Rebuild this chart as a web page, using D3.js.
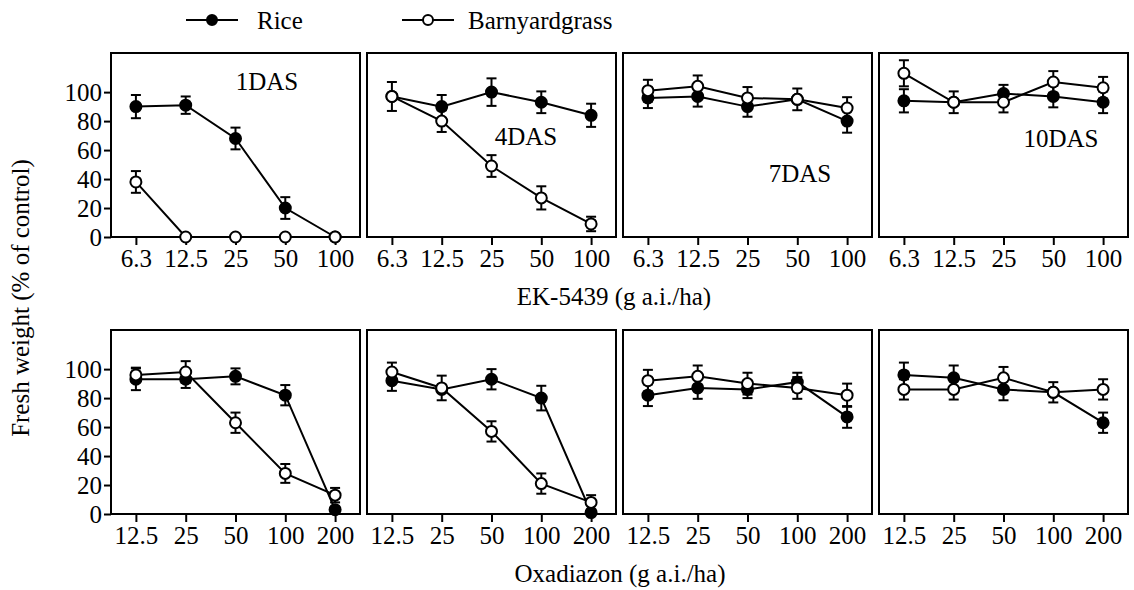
<!DOCTYPE html>
<html><head><meta charset="utf-8">
<script src="https://cdn.jsdelivr.net/npm/d3@7"></script>
</head><body style="margin:0">
<svg id="c" width="1134" height="590" font-family="Liberation Serif"></svg>
<script>
const ekDoses = ["6.3","12.5","25","50","100"];
const oxDoses = ["12.5","25","50","100","200"];
const yTicks = [0,20,40,60,80,100];
const dasLabels = ["1DAS","4DAS","7DAS","10DAS"];
const seriesNames = ["Rice","Barnyardgrass"];

// EK-5439 row (panels 1DAS,4DAS,7DAS,10DAS)
const ekRice = [[90,91,68,20,0],[97,90,100,93,84],[96,97,90,95,80],[94,93,99,97,93]];
const ekRiceErr = [[8,6,7.5,7.5,0],[0,8,9.5,7.5,8],[7,7,7,0,8],[8,0,6,7.5,7.5]];
const ekBarn = [[38,0,0,0,0],[97,80,49,27,9],[101,104,96,95,89],[113,93,93,107,103]];
const ekBarnErr = [[7.5,0,0,0,0],[10,7.5,7.5,8,5],[7.5,7.5,7.5,7.5,7.5],[9,7.5,7,7.5,7.5]];

// Oxadiazon row
const oxRice = [[93,93,95,82,3],[92,86,93,80,1],[82,87,86,91,67],[96,94,86,84,63]];
const oxRiceErr = [[7.5,6,5.5,7,0],[7,0,7,8.5,0],[7.5,7.5,6,6.5,7.5],[8.5,8.5,7.5,0,7]];
const oxBarn = [[96,98,63,28,13],[98,87,57,21,8],[92,95,90,87,82],[86,86,94,84,86]];
const oxBarnErr = [[5,7.5,7,6.5,5],[6.5,8.5,7,7,5],[7.5,7.5,7.5,7.5,8],[7,7,7.5,7,7]];

const svg = d3.select("#c");
const panelW = 249, gap = 7, left0 = 111;
const rows = [
  {top:53, h:184, doses:ekDoses, rice:ekRice, riceErr:ekRiceErr, barn:ekBarn, barnErr:ekBarnErr, title:"EK-5439 (g a.i./ha)", titleX:614, titleY:305, showDas:true},
  {top:330, h:184, doses:oxDoses, rice:oxRice, riceErr:oxRiceErr, barn:oxBarn, barnErr:oxBarnErr, title:"Oxadiazon (g a.i./ha)", titleX:620, titleY:582, showDas:false}
];
const dasPos = [[156,37],[159,92],[177,129],[182,94]];

function txt(sel){ return sel.style("font-family",'"Liberation Serif"').style("font-size","25px").attr("fill","#000"); }

rows.forEach(row => {
  const y = d3.scaleLinear().domain([0,127]).range([row.top+row.h, row.top]);
  for (let p=0;p<4;p++){
    const x0 = left0 + p*(panelW+gap);
    const x = d3.scalePoint().domain(row.doses).range([x0, x0+panelW]).padding(0.5);
    const g = svg.append("g");
    g.append("rect").attr("x",x0).attr("y",row.top).attr("width",panelW).attr("height",row.h)
      .attr("fill","none").attr("stroke","#000").attr("stroke-width",2);
    const xa = g.append("g").attr("transform",`translate(0,${row.top+row.h})`)
      .call(d3.axisBottom(x).tickSize(8).tickPadding(4));
    xa.attr("font-family","Liberation Serif").attr("font-size",25);
    xa.select(".domain").remove();
    xa.selectAll("line").attr("stroke-width",2);
    txt(xa.selectAll("text"));
    if (p===0){
      const ya = g.append("g").attr("transform",`translate(${x0},0)`)
        .call(d3.axisLeft(y).tickValues(yTicks).tickSize(7).tickPadding(2));
      ya.attr("font-family","Liberation Serif").attr("font-size",25);
      ya.select(".domain").remove();
      ya.selectAll("line").attr("stroke-width",2);
      txt(ya.selectAll("text"));
    }
    if (row.showDas){
      txt(g.append("text").attr("x",x0+dasPos[p][0]).attr("y",row.top+dasPos[p][1])
        .attr("text-anchor","middle").text(dasLabels[p]));
    }
    const series = [
      {vals:row.rice[p], errs:row.riceErr[p], fill:"#000"},
      {vals:row.barn[p], errs:row.barnErr[p], fill:"#fff"}
    ];
    const line = d3.line().x((d,i)=>x(row.doses[i])).y(d=>y(d));
    series.forEach(s=>{
      g.append("path").attr("d",line(s.vals)).attr("fill","none").attr("stroke","#000").attr("stroke-width",2);
    });
    series.forEach(s=>{
      s.vals.forEach((v,i)=>{
        const e = s.errs[i];
        if (e>0){
          const cx = x(row.doses[i]);
          g.append("line").attr("x1",cx).attr("x2",cx).attr("y1",y(v-e)).attr("y2",y(v+e)).attr("stroke","#000").attr("stroke-width",2);
          [v-e,v+e].forEach(t=>g.append("line").attr("x1",cx-5).attr("x2",cx+5).attr("y1",y(t)).attr("y2",y(t)).attr("stroke","#000").attr("stroke-width",2));
        }
      });
    });
    series.forEach(s=>{
      g.selectAll(null).data(s.vals).enter().append("circle")
        .attr("cx",(d,i)=>x(row.doses[i])).attr("cy",d=>y(d)).attr("r",5.5)
        .attr("fill",s.fill).attr("stroke","#000").attr("stroke-width",2);
    });
  }
  txt(svg.append("text").attr("x",row.titleX).attr("y",row.titleY).attr("text-anchor","middle").text(row.title));
});

txt(svg.append("text").attr("transform","translate(29,298) rotate(-90)").attr("text-anchor","middle")
  .text("Fresh weight (% of control)"));

const leg = [{x:186, fill:"#000", tx:257},{x:402, fill:"#fff", tx:468}];
leg.forEach((l,i)=>{
  svg.append("line").attr("x1",l.x).attr("x2",l.x+52).attr("y1",20).attr("y2",20).attr("stroke","#000").attr("stroke-width",2);
  svg.append("circle").attr("cx",l.x+26).attr("cy",20).attr("r",5).attr("fill",l.fill).attr("stroke","#000").attr("stroke-width",2);
  txt(svg.append("text").attr("x",l.tx).attr("y",29).text(seriesNames[i]));
});
</script>
</body></html>
